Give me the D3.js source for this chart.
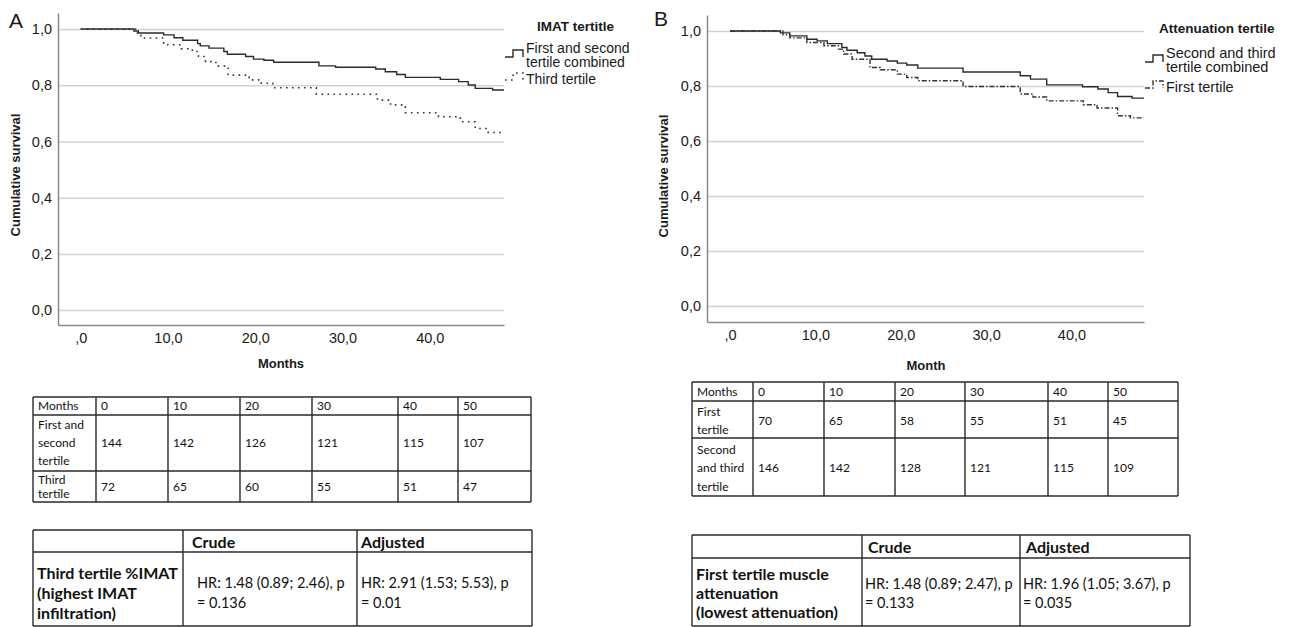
<!DOCTYPE html>
<html>
<head>
<meta charset="utf-8">
<script src="https://cdnjs.cloudflare.com/ajax/libs/d3/7.8.5/d3.min.js"></script>
<style>
  body { margin: 0; background: #fff; }
  svg text { font-family: "Liberation Sans", Arial, sans-serif; fill: #1a1a1a; }
  .tbl text { font-family: Lato, "Open Sans", sans-serif; fill: #111; }
  .grid line { stroke: #d3d3d3; stroke-width: 1.5; }
  .axis path { stroke: #8a8a8a; stroke-width: 1.5; }
</style>
</head>
<body>
<div id="chart"></div>
<script>
(function() {
  'use strict';

  var xTicks = [0, 10, 20, 30, 40];
  var xTickLabels = [',0', '10,0', '20,0', '30,0', '40,0'];
  var yTicks = [0, 0.2, 0.4, 0.6, 0.8, 1];
  var yTickLabels = ['0,0', '0,2', '0,4', '0,6', '0,8', '1,0'];

  // panel A - IMAT tertile
  var imatLowTime = [0, 6.1, 6.6, 9.5, 10.7, 11.7, 13.4, 13.7, 14.7, 16.4, 16.8, 18.9, 19.8, 21.0, 22.1, 27.3, 29.2, 33.8, 34.9, 36.2, 37.2, 41.2, 43.3, 44.4, 45.2, 47.2, 48.5];
  var imatLowSurv = [1, 0.993, 0.986, 0.979, 0.969, 0.960, 0.948, 0.940, 0.932, 0.920, 0.910, 0.902, 0.893, 0.889, 0.882, 0.869, 0.864, 0.858, 0.848, 0.838, 0.828, 0.821, 0.813, 0.801, 0.789, 0.783, 0.783];
  var imatHighTime = [0, 6.5, 6.9, 9.5, 11.5, 12.8, 13.5, 14.3, 15.5, 16.9, 19.3, 20.7, 22.0, 27.0, 34.0, 35.5, 37.2, 41.0, 43.5, 45.2, 46.7, 48.5];
  var imatHighSurv = [1, 0.986, 0.968, 0.944, 0.930, 0.920, 0.902, 0.884, 0.868, 0.836, 0.819, 0.807, 0.791, 0.768, 0.747, 0.730, 0.702, 0.688, 0.670, 0.646, 0.632, 0.632];

  // panel B - attenuation tertile
  var attHighTime = [0, 5.9, 7.0, 9.0, 10.2, 11.4, 13.1, 13.7, 14.9, 15.8, 16.6, 18.4, 19.6, 20.7, 22.0, 27.3, 34.0, 35.2, 37.1, 41.3, 43.1, 44.3, 45.4, 47.1, 48.5];
  var attHighSurv = [1, 0.993, 0.982, 0.970, 0.964, 0.954, 0.940, 0.930, 0.921, 0.909, 0.897, 0.891, 0.883, 0.876, 0.865, 0.851, 0.837, 0.825, 0.804, 0.797, 0.789, 0.776, 0.762, 0.756, 0.756];
  var attLowTime = [0, 6.2, 7.0, 9.0, 11.0, 12.7, 13.3, 14.3, 16.4, 17.6, 19.6, 20.7, 22.0, 27.3, 34.0, 35.5, 37.1, 41.4, 43.0, 45.4, 46.9, 48.5];
  var attLowSurv = [1, 0.986, 0.975, 0.958, 0.946, 0.934, 0.916, 0.897, 0.867, 0.859, 0.843, 0.831, 0.819, 0.798, 0.771, 0.760, 0.746, 0.732, 0.720, 0.692, 0.684, 0.684];

  // number at risk tables
  var riskMonths = ['0', '10', '20', '30', '40', '50'];
  var imatRiskLabels = [['First and', 'second', 'tertile'], ['Third', 'tertile']];
  var imatRiskLow = [144, 142, 126, 121, 115, 107];
  var imatRiskHigh = [72, 65, 60, 55, 51, 47];
  var attRiskLabels = [['First', 'tertile'], ['Second', 'and third', 'tertile']];
  var attRiskLow = [70, 65, 58, 55, 51, 45];
  var attRiskHigh = [146, 142, 128, 121, 115, 109];

  // hazard ratio tables
  var hrHeader = ['', 'Crude', 'Adjusted'];
  var imatHr = [['Third tertile %IMAT', '(highest IMAT', 'infiltration)'], ['HR: 1.48 (0.89; 2.46), p', '= 0.136'], ['HR: 2.91 (1.53; 5.53), p', '= 0.01']];
  var attHr = [['First tertile muscle', 'attenuation', '(lowest attenuation)'], ['HR: 1.48 (0.89; 2.47), p', '= 0.133'], ['HR: 1.96 (1.05; 3.67), p', '= 0.035']];

  var svg = d3.select('#chart').append('svg')
    .attr('width', 1294)
    .attr('height', 627);

  function drawPanel(p) {
    var g = svg.append('g');
    var x = d3.scaleLinear().domain(p.xDomain).range([p.left, p.right]);
    var y = d3.scaleLinear().domain(p.yDomain).range([p.bottom, p.top]);

    g.append('g')
      .attr('class', 'grid')
      .attr('transform', 'translate(' + p.left + ',0)')
      .call(d3.axisLeft(y).tickValues(yTicks).tickSize(-(p.right - p.left)).tickFormat(''))
      .call(function(s) { s.select('.domain').remove(); });

    g.append('g')
      .attr('class', 'axis')
      .attr('transform', 'translate(' + p.left + ',0)')
      .call(d3.axisLeft(y).tickValues(yTicks).tickSize(0).tickPadding(6)
        .tickFormat(function(d, i) { return yTickLabels[i]; }));

    g.append('g')
      .attr('class', 'axis')
      .attr('transform', 'translate(0,' + p.bottom + ')')
      .call(d3.axisBottom(x).tickValues(xTicks).tickSize(0).tickPadding(8)
        .tickFormat(function(d, i) { return xTickLabels[i]; }));

    g.selectAll('.axis text')
      .style('font-family', '"Liberation Sans", Arial, sans-serif')
      .style('font-size', '14.5px')
      .attr('fill', '#1a1a1a');

    g.append('text')
      .attr('transform', 'rotate(-90)')
      .attr('x', -p.yLabelY)
      .attr('y', p.yLabelX)
      .attr('text-anchor', 'middle')
      .style('font-weight', 'bold')
      .style('font-size', '13px')
      .text('Cumulative survival');

    g.append('text')
      .attr('x', p.xLabelX)
      .attr('y', p.xLabelY)
      .attr('text-anchor', 'middle')
      .style('font-weight', 'bold')
      .style('font-size', '13px')
      .text(p.xLabel);

    g.append('text')
      .attr('x', p.letterX)
      .attr('y', p.letterY)
      .style('font-size', '21px')
      .text(p.letter);

    var line = d3.line()
      .curve(d3.curveStepAfter)
      .x(function(d) { return x(d[0]); })
      .y(function(d) { return y(d[1]); });

    p.series.forEach(function(s) {
      g.append('path')
        .datum(d3.zip(s.time, s.surv))
        .attr('d', line)
        .attr('fill', 'none')
        .attr('stroke', s.color)
        .attr('stroke-width', s.width)
        .attr('stroke-dasharray', s.dash);
    });

    // legend
    var lg = g.append('g');
    lg.append('text')
      .attr('x', p.legend.x + p.legend.titleDx)
      .attr('y', p.legend.titleY)
      .style('font-weight', 'bold')
      .style('font-size', '13.5px')
      .text(p.legend.title);

    p.series.forEach(function(s, i) {
      var by = p.legend.symY[i];
      var sx = p.legend.x;
      lg.append('path')
        .attr('d', 'M' + sx + ',' + by + 'H' + (sx + 8) + 'V' + (by - 7) + 'H' + (sx + 18) + 'V' + by)
        .attr('fill', 'none')
        .attr('stroke', s.color)
        .attr('stroke-width', s.width)
        .attr('stroke-dasharray', s.dash);
      s.label.forEach(function(t, j) {
        lg.append('text')
          .attr('x', sx + 21)
          .attr('y', p.legend.textY[i] + j * 13.5)
          .style('font-size', p.legend.fontSize)
          .text(t);
      });
    });
  }

  function drawTable(cols, rows, cells, o) {
    var g = svg.append('g').attr('class', 'tbl');
    var x0 = cols[0], x1 = cols[cols.length - 1];
    var y0 = rows[0], y1 = rows[rows.length - 1];
    rows.forEach(function(r) {
      g.append('line').attr('x1', x0).attr('x2', x1).attr('y1', r).attr('y2', r)
        .attr('stroke', '#2a2a2a').attr('stroke-width', 1.4);
    });
    cols.forEach(function(c) {
      g.append('line').attr('x1', c).attr('x2', c).attr('y1', y0).attr('y2', y1)
        .attr('stroke', '#2a2a2a').attr('stroke-width', 1.4);
    });
    cells.forEach(function(row, ri) {
      var cy = (rows[ri] + rows[ri + 1]) / 2 + (o.dy[ri] || 0);
      var lh = o.lineH[ri];
      row.forEach(function(cell, ci) {
        var lines = Array.isArray(cell) ? cell : [String(cell)];
        var start = cy - (lines.length - 1) * lh / 2;
        var bold = o.bold(ri, ci);
        lines.forEach(function(t, li) {
          g.append('text')
            .attr('x', cols[ci] + o.padX(ri, ci))
            .attr('y', start + li * lh)
            .attr('dy', '0.36em')
            .style('font-size', bold ? o.boldSize : o.fontSize)
            .style('font-weight', bold ? 'bold' : 'normal')
            .text(t);
        });
      });
    });
  }

  drawPanel({
    left: 58, right: 504, top: 13, bottom: 325,
    xDomain: [-2.6, 48.5], yDomain: [-0.053, 1.057],
    letter: 'A', letterX: 9, letterY: 28,
    xLabel: 'Months', xLabelX: 281, xLabelY: 368,
    yLabelX: 20, yLabelY: 175,
    series: [
      { time: imatLowTime, surv: imatLowSurv, color: '#2b2b2b', width: 1.4, dash: null, label: ['First and second', 'tertile combined'] },
      { time: imatHighTime, surv: imatHighSurv, color: '#333', width: 1.6, dash: '1.6,4.4', label: ['Third tertile'] }
    ],
    legend: { x: 505, title: 'IMAT tertitle', titleDx: 32, titleY: 31, symY: [57, 80], textY: [53, 84], fontSize: '14px' }
  });

  drawPanel({
    left: 707, right: 1144, top: 15, bottom: 322,
    xDomain: [-2.7, 48.5], yDomain: [-0.058, 1.058],
    letter: 'B', letterX: 654, letterY: 26,
    xLabel: 'Month', xLabelX: 926, xLabelY: 370,
    yLabelX: 668, yLabelY: 176,
    series: [
      { time: attHighTime, surv: attHighSurv, color: '#2b2b2b', width: 1.4, dash: null, label: ['Second and third', 'tertile combined'] },
      { time: attLowTime, surv: attLowSurv, color: '#333', width: 1.4, dash: '5,2,1.5,2', label: ['First tertile'] }
    ],
    legend: { x: 1145, title: 'Attenuation tertile', titleDx: 14, titleY: 33, symY: [62, 88], textY: [58, 92], fontSize: '14.5px' }
  });

  drawTable([33, 96, 168, 240, 312, 398, 458, 531], [397, 415, 471, 502],
    [['Months'].concat(riskMonths),
     [imatRiskLabels[0]].concat(imatRiskLow),
     [imatRiskLabels[1]].concat(imatRiskHigh)],
    { padX: function() { return 5; }, lineH: [18, 18, 14], fontSize: '12px', boldSize: '12px', dy: [0, 0, 0],
      bold: function() { return false; } });

  drawTable([692, 753, 824, 895, 965, 1048, 1108, 1178], [382, 401, 438, 496],
    [['Months'].concat(riskMonths),
     [attRiskLabels[0]].concat(attRiskLow),
     [attRiskLabels[1]].concat(attRiskHigh)],
    { padX: function() { return 5; }, lineH: [18, 18, 18.5], fontSize: '12px', boldSize: '12px', dy: [0, 1, 1],
      bold: function() { return false; } });

  drawTable([33, 183, 357, 532], [530, 552, 626],
    [hrHeader, imatHr],
    { padX: function(r, c) { return c === 1 ? (r === 0 ? 9 : 14) : 4; }, lineH: [20, 20],
      fontSize: '14.5px', boldSize: '16px', dy: [1, 4], bold: function(r, c) { return r === 0 || c === 0; } });

  drawTable([692, 862, 1020, 1190], [535, 558, 626],
    [hrHeader, attHr],
    { padX: function(r, c) { return r === 0 ? 6 : (c === 0 ? 4 : 3); }, lineH: [19, 19],
      fontSize: '14.5px', boldSize: '16px', dy: [1, 1], bold: function(r, c) { return r === 0 || c === 0; } });
})();
</script>
</body>
</html>
